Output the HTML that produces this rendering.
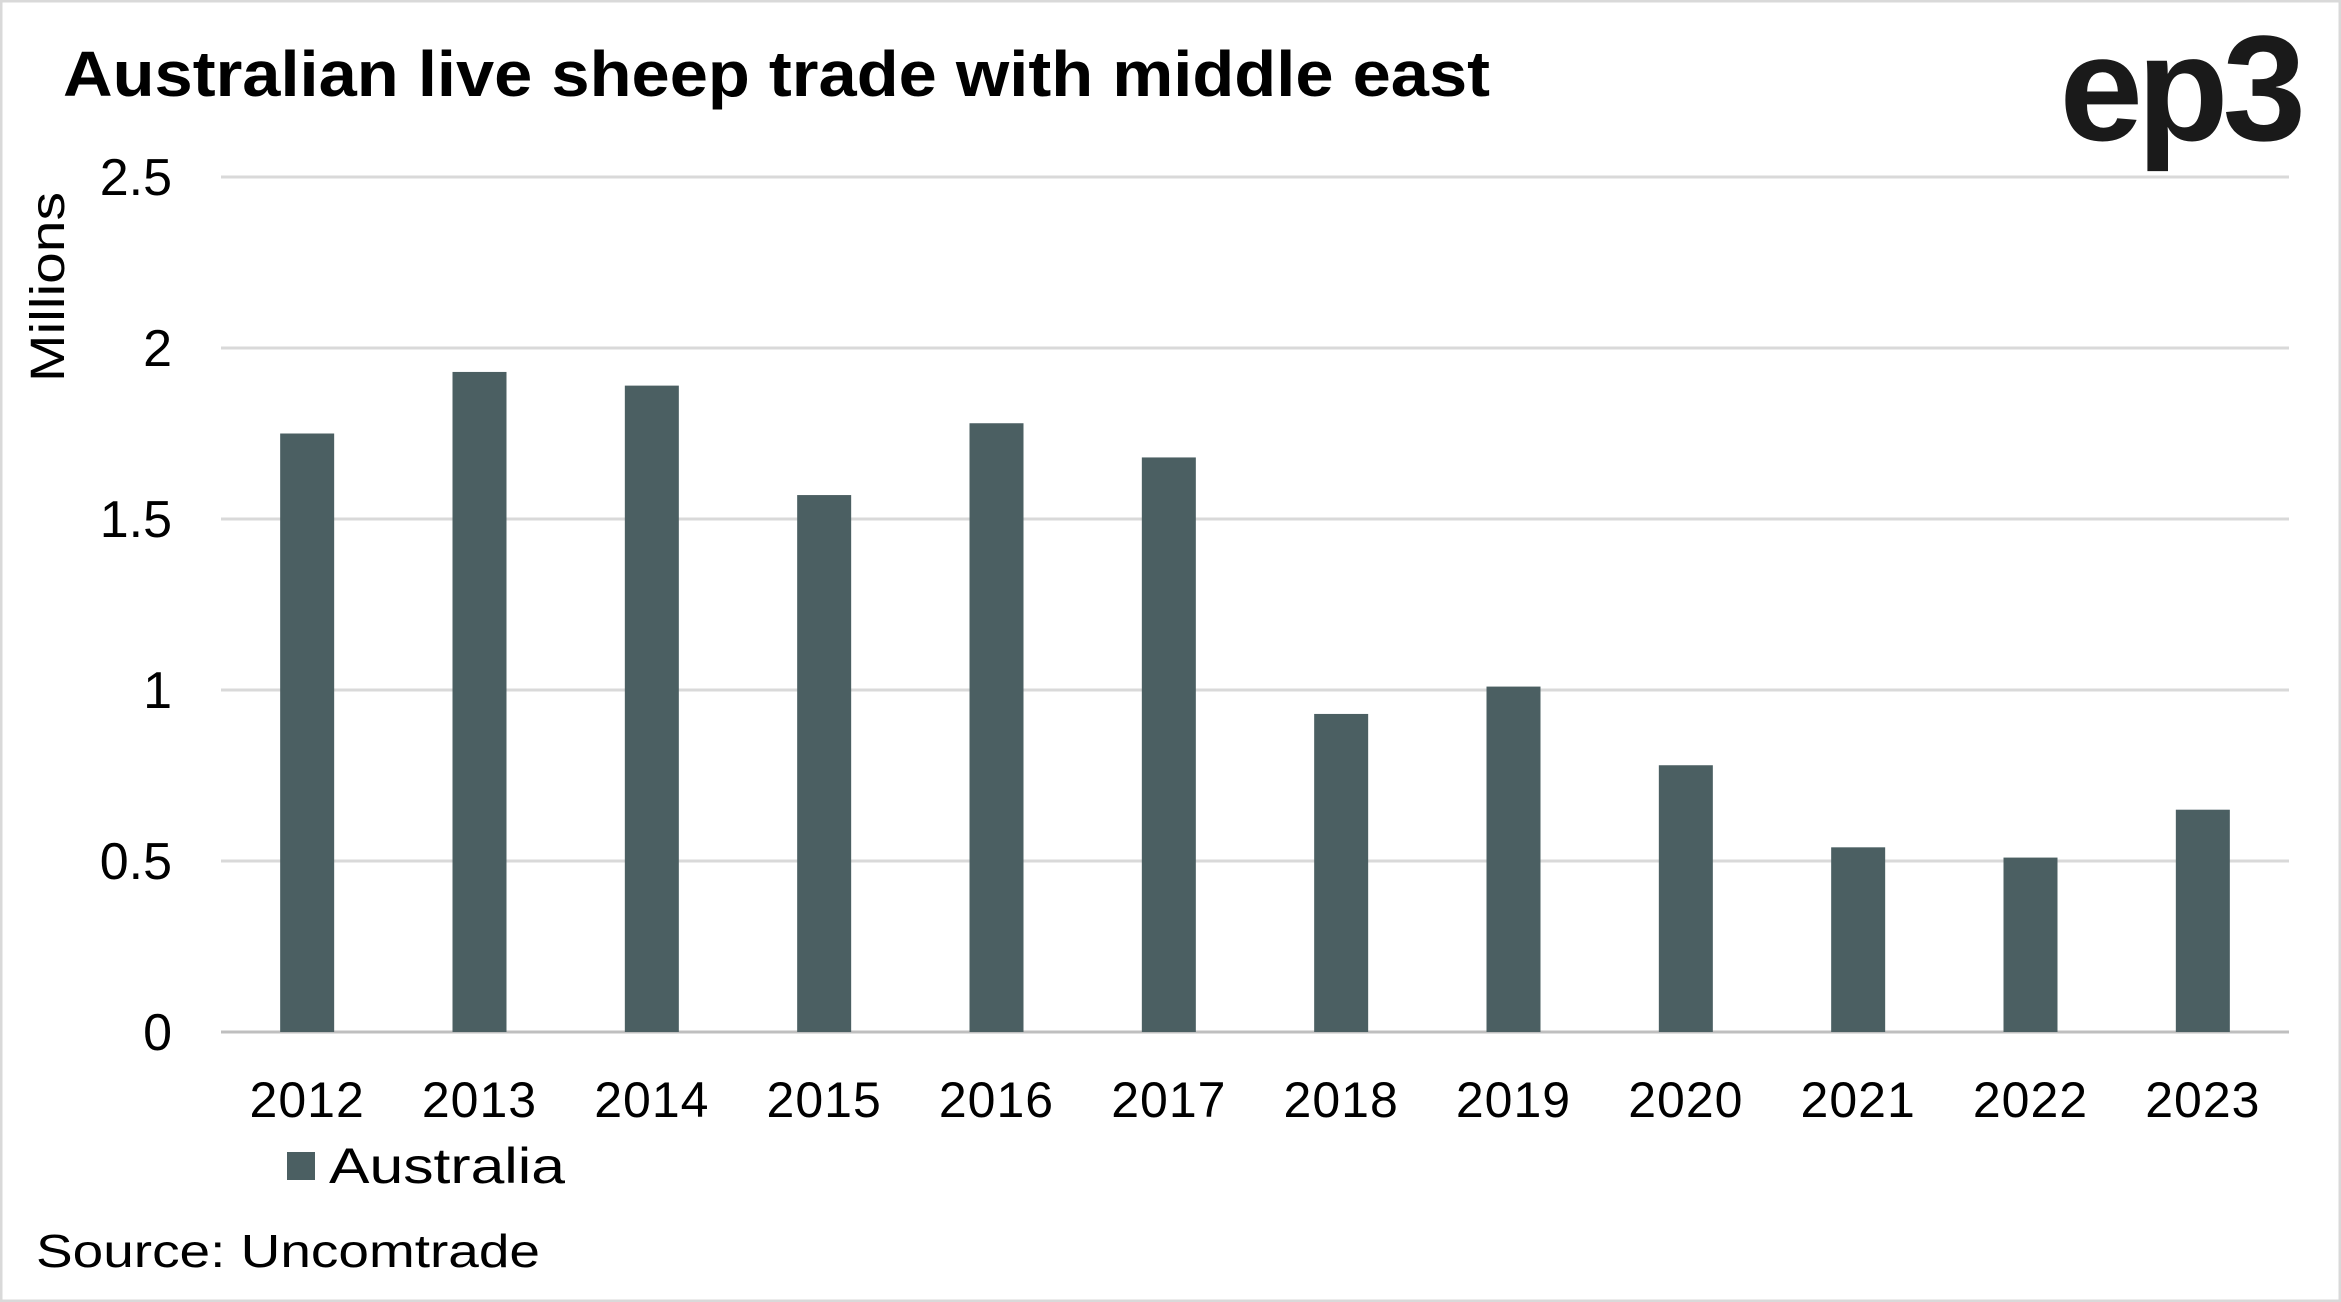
<!DOCTYPE html>
<html><head><meta charset="utf-8"><style>
html,body{margin:0;padding:0;background:#fff;}
svg{display:block;font-family:"Liberation Sans",sans-serif;}
</style></head><body>
<svg id="chart" width="2341" height="1302" viewBox="0 0 2341 1302" xmlns="http://www.w3.org/2000/svg">
<rect x="1" y="1" width="2339" height="1300" fill="#fff" stroke="#d9d9d9" stroke-width="3"/>
<text x="63" y="96" font-size="64" font-weight="bold" fill="#000" textLength="1427" lengthAdjust="spacingAndGlyphs">Australian live sheep trade with middle east</text>
<text x="2300" y="140" text-anchor="end" font-size="150" font-weight="bold" fill="#1a1a1a" letter-spacing="-6">ep3</text>
<text transform="translate(64,287) rotate(-90)" text-anchor="middle" font-size="48" fill="#000" textLength="190" lengthAdjust="spacingAndGlyphs">Millions</text>
<g id="grid"></g>
<g id="bars"></g>
<g id="xlabels"></g>
<rect x="287" y="1152" width="28" height="28" fill="#4b5f62"/>
<text x="329" y="1183" font-size="50" fill="#000" textLength="236" lengthAdjust="spacingAndGlyphs">Australia</text>
<text x="36" y="1267" font-size="46" fill="#000" textLength="504" lengthAdjust="spacingAndGlyphs">Source: Uncomtrade</text>
</svg>
<script>
const categories = ["2012","2013","2014","2015","2016","2017","2018","2019","2020","2021","2022","2023"];
const values = [1.75,1.93,1.89,1.57,1.78,1.68,0.93,1.01,0.78,0.54,0.51,0.65];
const yTicks = [0,0.5,1,1.5,2,2.5];
const yTickLabels = ["0","0.5","1","1.5","2","2.5"];

const NS="http://www.w3.org/2000/svg";
const plotLeft=221,plotRight=2289,plotBase=1032,plotTop=177,yMax=2.5;
const yScale=v=>plotBase-(v/yMax)*(plotBase-plotTop);
const step=(plotRight-plotLeft)/categories.length;
const xScale=i=>plotLeft+step*(i+0.5);
const barW=54;
const grid=document.getElementById('grid');
yTicks.forEach((t,i)=>{
  const l=document.createElementNS(NS,'line');
  l.setAttribute('x1',plotLeft);l.setAttribute('x2',plotRight);
  l.setAttribute('y1',yScale(t));l.setAttribute('y2',yScale(t));
  l.setAttribute('stroke',t===0?'#bfbfbf':'#d9d9d9');l.setAttribute('stroke-width','3');
  
  
  grid.appendChild(l);
  const tx=document.createElementNS(NS,'text');
  tx.setAttribute('x',172);tx.setAttribute('y',yScale(t)+18);
  tx.setAttribute('text-anchor','end');tx.setAttribute('font-size','52');
  tx.textContent=yTickLabels[i];
  
  
  grid.appendChild(tx);
});
const bars=document.getElementById('bars'),xl=document.getElementById('xlabels');
categories.forEach((c,i)=>{
  const r=document.createElementNS(NS,'rect');
  r.setAttribute('x',xScale(i)-barW/2);r.setAttribute('y',yScale(values[i]));
  r.setAttribute('width',barW);r.setAttribute('height',plotBase-yScale(values[i]));
  r.setAttribute('fill','#4b5f62');
  
  
  bars.appendChild(r);
  const t=document.createElementNS(NS,'text');
  t.setAttribute('x',xScale(i));t.setAttribute('y',1117);
  t.setAttribute('text-anchor','middle');t.setAttribute('font-size','50');
  t.setAttribute('letter-spacing','1');
  t.textContent=c;
  
  
  xl.appendChild(t);
});
</script>
</body></html>
